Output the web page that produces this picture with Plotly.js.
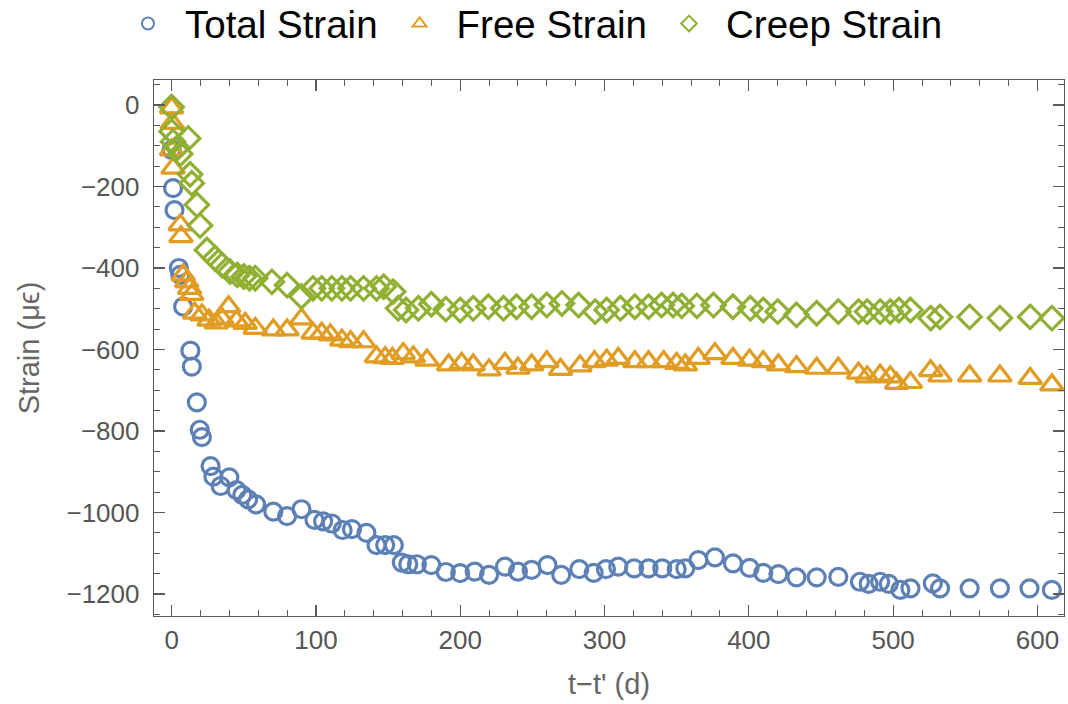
<!DOCTYPE html>
<html>
<head>
<meta charset="utf-8">
<script src="https://cdn.plot.ly/plotly-3.0.1.min.js"></script>
<style>html,body{margin:0;padding:0;background:#fff;}#chart{width:1068px;height:704px;}</style>
</head>
<body>
<div id="chart"></div>
<script>
const seriesNames = ["Total Strain", "Free Strain", "Creep Strain"];

const totalDays = [0, 1, 2, 5, 6, 8, 13, 14, 17.5, 19.5, 21, 27, 29, 34, 40, 45, 49, 53, 58.5, 70.5, 80, 90, 99, 105, 111, 118.5, 125, 135, 142, 148, 154, 159.5, 164, 170, 180, 190, 200, 210, 220, 231, 240, 249.5, 260.5, 270, 282.5, 292.5, 301, 309.5, 320.5, 330.5, 340, 350, 356, 365, 376.5, 389, 400.5, 410, 420.5, 433, 447, 462, 477, 483, 491, 497, 505, 512, 527.5, 532.5, 553, 574, 594.5, 610];
const totalStrain = [-110, -204, -258, -400, -417, -495, -603, -642, -730, -797, -815, -886, -912, -935, -914, -945, -957, -968, -980, -998, -1009, -992, -1018, -1022, -1027, -1043, -1041, -1050, -1080, -1080, -1080, -1123, -1127, -1127, -1129, -1146, -1149, -1145, -1153, -1133, -1145, -1141, -1129, -1153, -1139, -1148, -1139, -1133, -1137, -1137, -1137, -1139, -1137, -1117, -1110, -1125, -1136, -1148, -1151, -1159, -1159, -1158, -1170, -1175, -1170, -1175, -1190, -1186, -1174, -1186, -1186, -1186, -1186, -1190];

const freeDays = [0, 0.5, 0, 1, 6, 6.5, 8, 10.5, 12.5, 14, 16, 21, 26, 31, 35, 39.5, 45, 51, 58, 70.5, 80, 90, 98, 104, 110, 118, 124, 133, 142, 148, 153, 160.5, 167.5, 177, 192, 201, 209, 220, 231, 240, 249.5, 260, 269.5, 283, 293, 301.5, 309.5, 321, 330.5, 341, 350, 356, 365, 376.5, 389, 400.5, 410, 420.5, 433, 447, 462, 476, 482, 491, 498, 502.5, 512, 526, 532.5, 553, 574, 595, 610];
const freeStrain = [-7, -45, -110, -155, -294, -323, -417, -434, -450, -465, -511, -515, -528, -535, -525, -495, -530, -536, -548, -552, -552, -525, -560, -560, -564, -577, -581, -581, -618, -620, -622, -610, -618, -626, -638, -634, -638, -650, -634, -646, -638, -630, -649, -640, -630, -626, -622, -630, -630, -630, -634, -638, -622, -610, -622, -626, -630, -638, -642, -646, -646, -658, -667, -663, -667, -683, -681, -652, -665, -665, -665, -671, -687];

const creepDays = [0, 0, 1, 4, 6, 11.5, 12.8, 14, 17.5, 19.7, 24.5, 30, 35, 40.5, 45.5, 50, 54, 58, 69.5, 80, 90, 98, 104, 111, 118, 124, 133, 142, 147, 153.5, 157, 162.5, 171, 180, 190, 200, 209, 219.5, 230, 239, 249.5, 260, 270.5, 282, 293.5, 301.5, 311, 321, 330.5, 339.5, 347.5, 353.5, 364, 375.5, 389, 401, 410, 420, 433, 447, 462, 476, 482, 491, 498, 504, 512, 526, 532.5, 553, 574, 595, 610];
const creepStrain = [-5, -65, -90, -105, -120, -82, -170, -192, -245, -296, -356, -376, -393, -409, -417, -421, -425, -425, -434, -442, -470, -450, -450, -450, -450, -450, -450, -450, -446, -458, -499, -503, -499, -489, -501, -503, -499, -495, -499, -495, -495, -491, -487, -491, -507, -503, -499, -495, -495, -491, -491, -493, -493, -491, -495, -499, -503, -507, -515, -511, -507, -507, -507, -507, -507, -503, -503, -523, -520, -520, -523, -520, -523];

const xTickVals = [0, 100, 200, 300, 400, 500, 600];
const yTickVals = [0, -200, -400, -600, -800, -1000, -1200];
const yTickText = ["0", "\u2212200", "\u2212400", "\u2212600", "\u2212800", "\u22121000", "\u22121200"];
const xTitle = "t\u2212t' (d)";
const yTitle = "Strain (\u03bc\u03f5)";

const FONT = "Liberation Sans, Arial, sans-serif";
const frame = "#5a5a5a";

const traces = [
  {x: totalDays, y: totalStrain, name: seriesNames[0], type: "scatter", mode: "markers",
   marker: {symbol: "circle-open", size: 17, color: "#5E81B5", line: {width: 3.2, color: "#5E81B5"}}},
  {x: freeDays, y: freeStrain, name: seriesNames[1], type: "scatter", mode: "markers",
   marker: {symbol: "triangle-up-open", size: 20, color: "#E19C24", line: {width: 3.2, color: "#E19C24"}}},
  {x: creepDays, y: creepStrain, name: seriesNames[2], type: "scatter", mode: "markers",
   marker: {symbol: "diamond-open", size: 18, color: "#8FB032", line: {width: 3.2, color: "#8FB032"}}}
];

const axisCommon = {
  showline: true, linecolor: frame, linewidth: 1.3, mirror: "ticks",
  ticks: "inside", ticklen: 11, tickwidth: 1.2, tickcolor: frame,
  showgrid: false, zeroline: false,
  tickfont: {family: FONT, size: 26, color: "#555555"}
};

const layout = {
  width: 1068, height: 704,
  paper_bgcolor: "#ffffff", plot_bgcolor: "#ffffff",
  margin: {l: 154, r: 4, t: 80, b: 88, autoexpand: false},
  font: {family: FONT},
  showlegend: true,
  legend: {orientation: "h", x: 0.1039, xref: "container", xanchor: "left", y: 0.966, yref: "container", yanchor: "middle",
           font: {family: FONT, size: 38.5, color: "#000000"}, itemsizing: "constant", itemwidth: 64,
           bgcolor: "rgba(0,0,0,0)"},
  xaxis: Object.assign({}, axisCommon, {
    range: [-12.2, 618.4], tickmode: "array", tickvals: xTickVals,
    minor: {dtick: 20, tick0: 0, ticks: "inside", ticklen: 6, tickwidth: 1, tickcolor: frame},
    title: {text: xTitle, font: {family: FONT, size: 29, color: "#666666"}, standoff: 20}
  }),
  yaxis: Object.assign({}, axisCommon, {
    range: [-1254, 61.3], tickmode: "array", tickvals: yTickVals, ticktext: yTickText,
    ticklabelstandoff: 8,
    minor: {dtick: 50, tick0: 0, ticks: "inside", ticklen: 6, tickwidth: 1, tickcolor: frame},
    title: {text: yTitle, font: {family: FONT, size: 29, color: "#666666"}, standoff: 18}
  })
};

Plotly.newPlot("chart", traces, layout, {displayModeBar: false, staticPlot: true});
</script>
</body>
</html>
